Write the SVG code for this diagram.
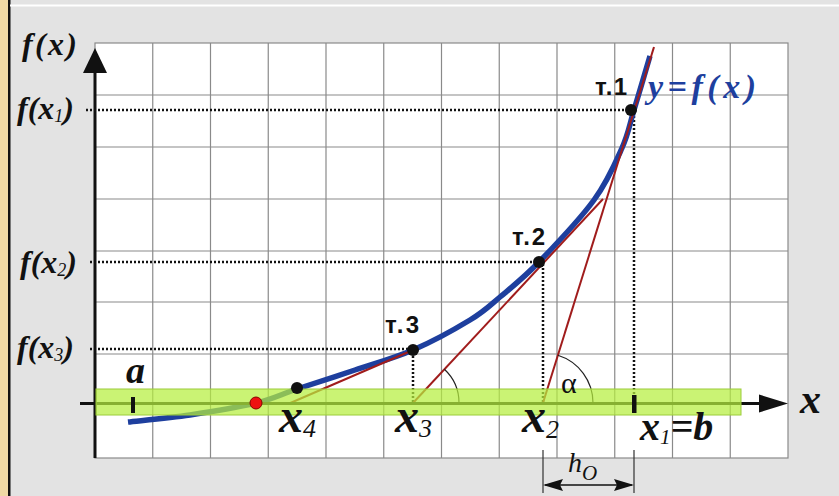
<svg xmlns="http://www.w3.org/2000/svg" width="839" height="496" viewBox="0 0 839 496">
<style>
.grid{stroke:#8a8a8a;stroke-width:1.2;fill:none}
.dot{stroke:#111;stroke-width:2.5;stroke-dasharray:2 2;fill:none}
.tan{stroke:#a01c1c;stroke-width:2;fill:none}
.arc{stroke:#222;stroke-width:1.2;fill:none}
.lab{font-family:'Liberation Serif','Times New Roman',Times,'DejaVu Serif',serif;font-weight:bold;font-style:italic;fill:#111}
.ser{font-family:'Liberation Serif','Times New Roman',Times,'DejaVu Serif',serif}
.pt{font-family:'Liberation Sans',Arial,sans-serif;font-weight:bold;font-size:24px;fill:#111}
.sub{font-weight:normal}
</style>
<rect x="0" y="0" width="839" height="496" fill="#e3e3e3"/>
<rect x="0" y="0" width="8" height="496" fill="#efd9a5"/>
<rect x="8" y="0" width="2.5" height="496" fill="#111"/>
<rect x="10" y="4.5" width="829" height="2" fill="#ffffff"/>

<g id="grid">
<rect x="95" y="43" width="693" height="415" fill="#ffffff"/>
<path class="grid" d="M152.75,43V458M210.5,43V458M268.25,43V458M326,43V458M383.75,43V458M441.5,43V458M499.25,43V458M557,43V458M614.75,43V458M672.5,43V458M730.25,43V458M95,95H788M95,147H788M95,199H788M95,251H788M95,302H788M95,354H788"/>
<rect class="grid" x="95" y="43" width="693" height="415"/>
</g>

<g id="guides">
<path class="dot" d="M86,110H631M634,112V396M90,262H539M543,264V403M90,349H413M413,352V403"/>
</g>

<g id="curve">
<path d="M128,422 C138.3,420.8 168.7,418.2 190,415 C211.3,411.8 238.2,407.3 256,403 C273.8,398.7 280.5,394.5 297,389 C313.5,383.5 335.7,376.5 355,370 C374.3,363.5 393.8,358.3 413,350 C432.2,341.7 455.5,328.8 470,320 C484.5,311.2 488.5,306.7 500,297 C511.5,287.3 523.3,278.2 539,262 C554.7,245.8 580.2,219 594,200 C607.8,181 615.3,163 622,148 C628.7,133 629.3,125.3 634,110 C638.7,94.7 647.3,65 650,56" fill="none" stroke="#1e3f9e" stroke-width="5.5" stroke-linecap="butt"/>
</g>

<g id="connectors">
<line class="tan" x1="543" y1="403" x2="654" y2="47"/>
<line class="tan" x1="413" y1="403" x2="603" y2="199"/>
<line class="tan" x1="288" y1="404" x2="413" y2="350"/>
<path class="arc" d="M459,403 A46,46 0 0 0 444.4,369.3"/>
<path class="arc" d="M593,403 A50,50 0 0 0 557.9,355.3"/>
<line x1="95" y1="458" x2="95" y2="60" stroke="#111" stroke-width="3"/>
<line x1="80" y1="403.5" x2="770" y2="403.5" stroke="#111" stroke-width="3"/>
<path d="M95,48 L83,73 L107,73 Z" fill="#111"/>
<path d="M788,403.5 L759,394.5 L759,412.5 Z" fill="#111"/>
</g>

<g id="band">
<rect x="96" y="389" width="645" height="26" fill="#b6ef3e" fill-opacity="0.72" stroke="#9ccc3a" stroke-width="1"/>
</g>

<g id="ticks">
<rect x="131" y="397" width="4" height="16" fill="#111"/>
<rect x="632" y="395" width="4.5" height="18" fill="#111"/>
</g>

<g id="points">
<circle id="t1" cx="631" cy="110" r="6" fill="#111"/>
<circle id="t2" cx="539" cy="262" r="6" fill="#111"/>
<circle id="t3" cx="413" cy="350" r="6" fill="#111"/>
<circle id="t4" cx="297" cy="388" r="6" fill="#111"/>
<circle id="root" cx="256" cy="403" r="6" fill="#ee1111" stroke="#8a0000" stroke-width="1"/>
</g>

<g id="dimension">
<path d="M543,450V493M634,450V493" stroke="#333" stroke-width="1.2"/>
<line x1="545" y1="485" x2="632" y2="485" stroke="#111" stroke-width="1.5"/>
<path d="M543,485 L563,479 L560,485 L563,491 Z M634,485 L614,479 L617,485 L614,491 Z" fill="#111"/>
<text class="ser" x="568" y="472" font-style="italic" font-size="28" fill="#111">h<tspan font-size="21" dx="0" dy="8">O</tspan></text>
</g>

<g id="labels">
<text class="lab" x="22" y="55" font-size="32" textLength="55" lengthAdjust="spacing">f(x)</text>
<text class="lab" x="17" y="119" font-size="32">f(x<tspan class="sub" font-size="18" dy="3">1</tspan><tspan dy="-3">)</tspan></text>
<text class="lab" x="20" y="273" font-size="32">f(x<tspan class="sub" font-size="18" dy="3">2</tspan><tspan dy="-3">)</tspan></text>
<text class="lab" x="17" y="358" font-size="32">f(x<tspan class="sub" font-size="18" dy="3">3</tspan><tspan dy="-3">)</tspan></text>
<text class="lab" x="126" y="383" font-size="38">a</text>
<text class="lab" x="279" y="432" font-size="48">x<tspan class="sub" font-size="26" dy="5">4</tspan></text>
<text class="lab" x="395" y="432" font-size="48">x<tspan class="sub" font-size="26" dy="5">3</tspan></text>
<text class="lab" x="522" y="432" font-size="48">x<tspan class="sub" font-size="26" dy="6">2</tspan></text>
<text class="lab" x="640" y="440" font-size="40">x<tspan class="sub" font-size="21" dy="4">1</tspan><tspan dy="-4">=b</tspan></text>
<text class="lab" x="800" y="413" font-size="42">x</text>
<text class="lab" x="648" y="98" font-size="34" style="fill:#1e3f9e" textLength="108" lengthAdjust="spacing">y=f(x)</text>
<text class="pt" x="595" y="95" textLength="32">т.1</text>
<text class="pt" x="512" y="245" textLength="33">т.2</text>
<text class="pt" x="385" y="333" textLength="34">т.3</text>
<text class="ser" x="561" y="393" font-size="30" fill="#111">α</text>
</g>
</svg>
